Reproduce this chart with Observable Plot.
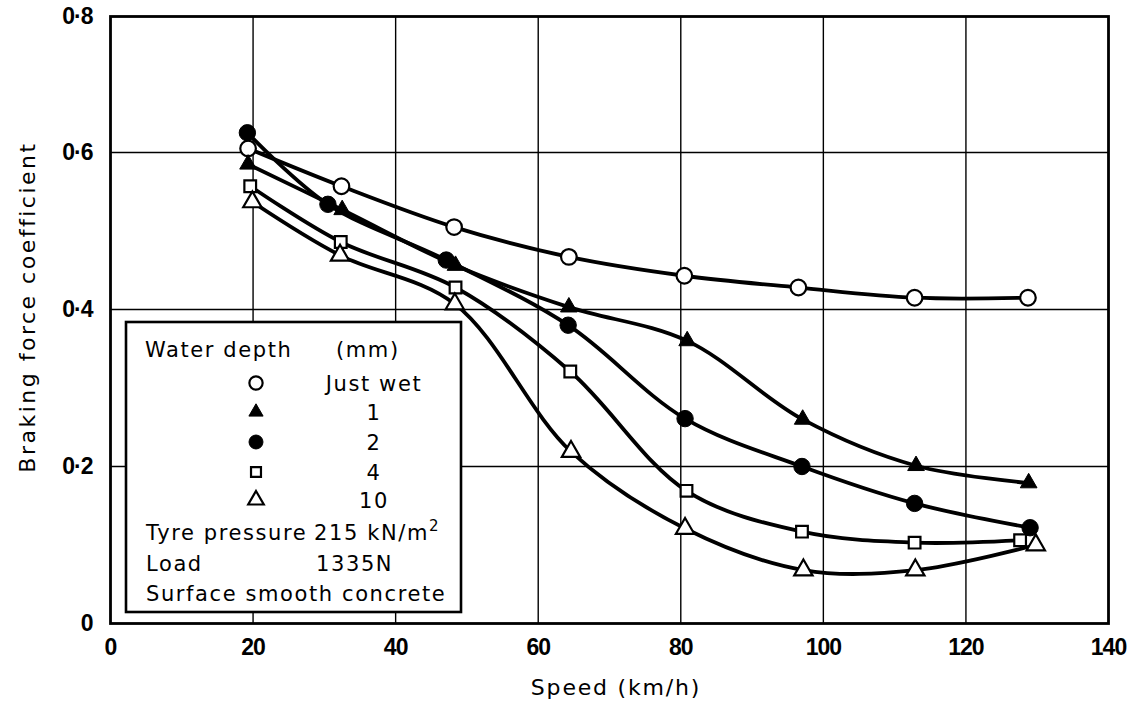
<!DOCTYPE html>
<html>
<head>
<meta charset="utf-8">
<script src="https://cdn.jsdelivr.net/npm/d3@7"></script>
<script src="https://cdn.jsdelivr.net/npm/@observablehq/plot@0.6"></script>
<style>
  html, body { margin: 0; padding: 0; background: #fff; }
  #chart svg { display: block; }
  #chart g[aria-label^="x-axis"] text,
  #chart g[aria-label^="y-axis"] text {
    font-family: "Liberation Sans", Arial, sans-serif;
    font-size: 23px;
    font-weight: bold;
    letter-spacing: -1px;
    fill: #000;
  }
</style>
</head>
<body>
<div id="chart"></div>
<script>
// ---- data ----
const xTicks = [0, 20, 40, 60, 80, 100, 120, 140];
const yTicks = [0, 0.2, 0.4, 0.6, 0.8];
const yTickLabels = ["0", "0·2", "0·4", "0·6", "0·8"];

const seriesNames = ["Just wet", "1", "2", "4", "10"];

const justWetSpeed = [19.3, 32.4, 48.2, 64.3, 80.5, 96.5, 112.8, 128.7];
const justWetCoef  = [0.606, 0.557, 0.505, 0.467, 0.443, 0.428, 0.415, 0.415];

const depth1Speed = [19.3, 32.5, 48.4, 64.3, 80.9, 97.1, 113.0, 128.8];
const depth1Coef  = [0.585, 0.527, 0.456, 0.403, 0.360, 0.260, 0.201, 0.179];

const depth2Speed = [19.2, 30.5, 47.1, 64.2, 80.6, 97.0, 112.8, 129.0];
const depth2Coef  = [0.629, 0.534, 0.463, 0.380, 0.261, 0.200, 0.153, 0.122];

const depth4Speed = [19.6, 32.3, 48.4, 64.5, 80.8, 97.0, 112.8, 127.6];
const depth4Coef  = [0.557, 0.486, 0.428, 0.321, 0.169, 0.117, 0.103, 0.106];

const depth10Speed = [19.9, 32.2, 48.3, 64.6, 80.6, 97.2, 112.9, 129.8];
const depth10Coef  = [0.537, 0.469, 0.407, 0.219, 0.121, 0.068, 0.068, 0.100];

const legendInfo = [
  ["Tyre pressure", "215 kN/m", "2"],
  ["Load", "1335N", ""],
  ["Surface smooth concrete", "", ""]
];

// ---- build table ----
const seriesStyle = [
  {symbol: "circle",   fill: "white", r: 7.8},
  {symbol: "triangle", fill: "black", r: 6.2},
  {symbol: "circle",   fill: "black", r: 8.2},
  {symbol: "square",   fill: "white", r: 6.6},
  {symbol: "triangle", fill: "white", r: 6.8}
];
const speedsList = [justWetSpeed, depth1Speed, depth2Speed, depth4Speed, depth10Speed];
const coefList = [justWetCoef, depth1Coef, depth2Coef, depth4Coef, depth10Coef];
const series = seriesNames.map((name, i) => ({
  name,
  ...seriesStyle[i],
  data: speedsList[i].map((s, j) => ({speed: s, coef: coefList[i][j]}))
}));

const W = 1135, H = 706;
const pLeft = 110, pRight = 1108, pTop = 16, pBottom = 623, pY06 = 152;

const marks = [
  Plot.ruleX(xTicks.slice(1, -1), {stroke: "black", strokeWidth: 1.4}),
  Plot.ruleY(yTicks.slice(1, -1), {stroke: "black", strokeWidth: 1.4}),
  Plot.frame({stroke: "black", strokeWidth: 2.8})
];
for (const s of series) {
  marks.push(Plot.line(s.data, {x: "speed", y: "coef", curve: "catmull-rom", stroke: "black", strokeWidth: 3.8}));
}
for (const s of series) {
  marks.push(Plot.dot(s.data, {x: "speed", y: "coef", symbol: s.symbol, r: s.r,
    fill: s.fill, stroke: "black", strokeWidth: s.fill === "white" ? 2.2 : 1}));
}

const plot = Plot.plot({
  width: W, height: H,
  marginLeft: pLeft, marginRight: W - pRight, marginTop: pTop, marginBottom: H - pBottom,
  style: {background: "white", color: "black", overflow: "visible"},
  x: {type: "linear", domain: [0, 140], ticks: xTicks, tickSize: 0, tickPadding: 15, tickFormat: d => String(d), label: null},
  y: {type: "linear", domain: [0, 0.6, 0.8], range: [pBottom, pY06, pTop], ticks: yTicks, tickSize: 0, tickPadding: 18,
      tickFormat: d => yTickLabels[yTicks.indexOf(d)], label: null},
  marks
});
document.getElementById("chart").appendChild(plot);

// ---- axis titles and legend box ----
const svg = d3.select(plot);
const titleFont = "'DejaVu Sans', sans-serif";
svg.append("text")
  .attr("x", 616).attr("y", 695)
  .attr("text-anchor", "middle")
  .attr("font-family", titleFont).attr("font-size", 22).attr("letter-spacing", 1.8)
  .attr("fill", "black")
  .text("Speed (km/h)");
svg.append("text")
  .attr("transform", "translate(35,307) rotate(-90)")
  .attr("text-anchor", "middle")
  .attr("font-family", titleFont).attr("font-size", 22).attr("letter-spacing", 2.5)
  .attr("fill", "black")
  .text("Braking force coefficient");

const lg = svg.append("g").attr("font-family", titleFont).attr("font-size", 21)
  .attr("letter-spacing", 1.6).attr("fill", "black").attr("text-anchor", "start");
lg.append("rect").attr("x", 126).attr("y", 322).attr("width", 335).attr("height", 290)
  .attr("fill", "white").attr("stroke", "black").attr("stroke-width", 2.6);
lg.append("text").attr("x", 145).attr("y", 357).text("Water depth");
lg.append("text").attr("x", 336).attr("y", 357).text("(mm)");
const rowY = [383, 412, 442, 472, 500];
series.forEach((s, i) => {
  const sym = s.symbol === "circle" ? d3.symbolCircle : s.symbol === "square" ? d3.symbolSquare : d3.symbolTriangle;
  const rr = s.r * 0.85;
  lg.append("path")
    .attr("d", d3.symbol(sym, Math.PI * rr * rr)())
    .attr("transform", `translate(256,${rowY[i]})`)
    .attr("fill", s.fill).attr("stroke", "black").attr("stroke-width", s.fill === "white" ? 2.2 : 1);
  lg.append("text").attr("x", 374).attr("y", rowY[i] + 8).attr("text-anchor", "middle").text(s.name);
});
const infoY = [540, 571, 601];
legendInfo.forEach((row, i) => {
  lg.append("text").attr("x", 146).attr("y", infoY[i]).text(row[0]);
  if (row[1]) {
    const t = lg.append("text").attr("x", i === 0 ? 314 : 316).attr("y", infoY[i]).text(row[1]);
    if (row[2]) t.append("tspan").attr("dy", -9).attr("font-size", 15).text(row[2]);
  }
});
</script>
</body>
</html>
